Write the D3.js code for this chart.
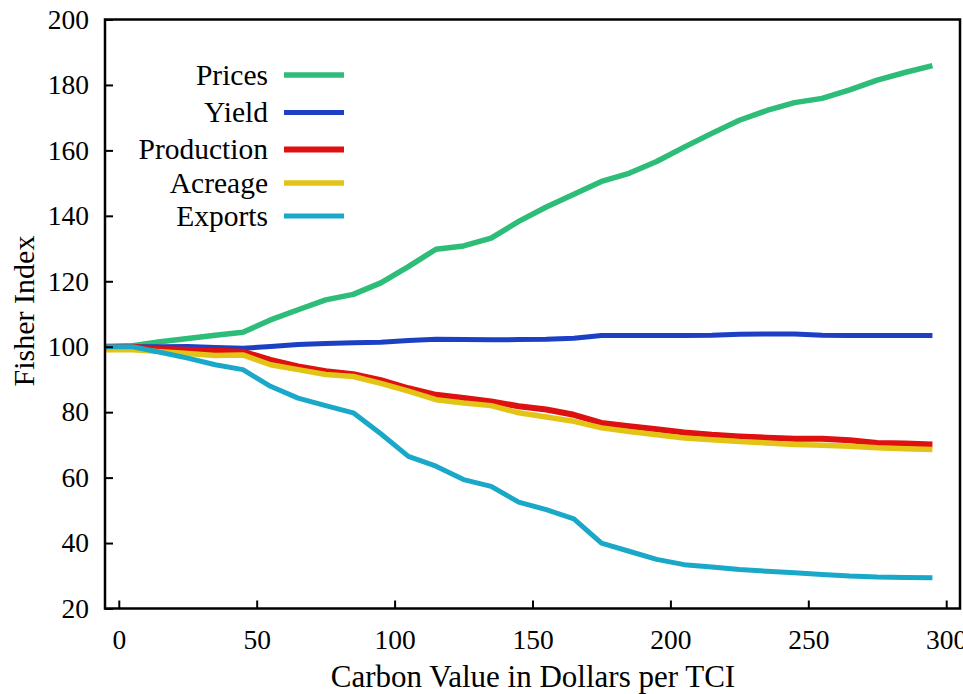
<!DOCTYPE html>
<html>
<head>
<meta charset="utf-8">
<script src="https://cdn.jsdelivr.net/npm/d3@7"></script>
<style>
  html, body { margin: 0; padding: 0; background: #fff; }
  svg { display: block; }
  text { font-family: "Liberation Serif", "Times New Roman", serif; fill: #000; }
</style>
</head>
<body>
<svg id="chart" width="963" height="694"></svg>
<script>
// ---- data ----
const xValues = [-5, 5, 15, 25, 35, 45, 55, 65, 75, 85, 95, 105, 115, 125, 135, 145, 155, 165, 175, 185, 195, 205, 215, 225, 235, 245, 255, 265, 275, 285, 295];
const prices     = [100, 100.3, 101.5, 102.5, 103.5, 104.4, 108.2, 111.3, 114.3, 116, 119.5, 124.5, 129.8, 130.8, 133.2, 138.3, 142.7, 146.6, 150.5, 153, 156.6, 161, 165.2, 169.2, 172.2, 174.6, 175.9, 178.5, 181.5, 183.8, 185.9];
const yieldIdx   = [100, 100, 100, 100.1, 99.8, 99.5, 100.1, 100.7, 101, 101.2, 101.4, 101.9, 102.3, 102.2, 102.1, 102.2, 102.3, 102.6, 103.4, 103.4, 103.4, 103.4, 103.5, 103.8, 103.9, 103.9, 103.5, 103.4, 103.4, 103.4, 103.4];
const production = [100, 100, 99.3, 99.1, 98.8, 98.5, 96, 94, 92.5, 91.6, 89.8, 87.3, 85.3, 84.3, 83.3, 81.8, 80.8, 79.2, 76.7, 75.7, 74.8, 73.8, 73.1, 72.6, 72.2, 71.9, 71.9, 71.4, 70.6, 70.4, 70.1];
const acreage    = [99.1, 99.1, 98.5, 97.9, 97.3, 97.5, 94.5, 93, 91.5, 90.9, 88.8, 86.4, 83.8, 82.8, 82, 79.8, 78.5, 77.2, 75.2, 74.1, 73.1, 72.1, 71.6, 71, 70.6, 70.1, 69.9, 69.6, 69.1, 68.8, 68.6];
const exportsIdx = [100, 100, 98.3, 96.5, 94.5, 93, 87.9, 84.3, 82, 79.8, 73.4, 66.5, 63.5, 59.4, 57.3, 52.5, 50.2, 47.4, 40, 37.5, 35, 33.4, 32.7, 31.9, 31.4, 30.9, 30.4, 29.9, 29.6, 29.5, 29.4];
const seriesNames  = ["Prices", "Yield", "Production", "Acreage", "Exports"];
const seriesColors = ["#2ebd78", "#1c40c4", "#de1010", "#e3c416", "#19a8c8"];
const xTicks = [0, 50, 100, 150, 200, 250, 300];
const yTicks = [20, 40, 60, 80, 100, 120, 140, 160, 180, 200];
const xTitle = "Carbon Value in Dollars per TCI";
const yTitle = "Fisher Index";

// ---- layout ----
const svg = d3.select("#chart");
const plot = { left: 105, right: 960, top: 19.5, bottom: 608.5 };
const x = d3.scaleLinear().domain([-5, 305]).range([plot.left, plot.right]);
const y = d3.scaleLinear().domain([20, 200]).range([plot.bottom, plot.top]);

const allSeries = [prices, yieldIdx, production, acreage, exportsIdx];
const widths = [5.5, 5, 6, 5.5, 5];

// lines
svg.append("clipPath").attr("id", "clip")
  .append("rect").attr("x", plot.left).attr("y", plot.top)
  .attr("width", plot.right - plot.left).attr("height", plot.bottom - plot.top);

const line = d3.line().x(d => x(d[0])).y(d => y(d[1]));
allSeries.forEach((vals, i) => {
  svg.append("path")
    .datum(xValues.map((xv, j) => [xv, vals[j]]))
    .attr("clip-path", "url(#clip)")
    .attr("fill", "none")
    .attr("stroke", seriesColors[i])
    .attr("stroke-width", widths[i])
    .attr("stroke-linejoin", "round")
    .attr("d", line);
});

// axes
const fontSize = 27.5;
const yAxis = d3.axisLeft(y).tickValues(yTicks).tickSizeInner(-8).tickSizeOuter(0).tickPadding(16);
const gy = svg.append("g").attr("transform", `translate(${plot.left},0)`).call(yAxis);
gy.select(".domain").remove();
gy.selectAll(".tick line").attr("stroke", "#000").attr("stroke-width", 2);
gy.selectAll(".tick text").attr("font-size", fontSize).attr("font-family", "Liberation Serif, serif").attr("fill", "#000");

const xAxis = d3.axisBottom(x).tickValues(xTicks).tickSizeInner(-8).tickSizeOuter(0).tickPadding(21);
const gx = svg.append("g").attr("transform", `translate(0,${plot.bottom})`).call(xAxis);
gx.select(".domain").remove();
gx.selectAll(".tick line").attr("stroke", "#000").attr("stroke-width", 2);
gx.selectAll(".tick text").attr("font-size", fontSize).attr("font-family", "Liberation Serif, serif").attr("fill", "#000");

// frame
svg.append("rect")
  .attr("x", plot.left).attr("y", plot.top)
  .attr("width", plot.right - plot.left).attr("height", plot.bottom - plot.top)
  .attr("fill", "none").attr("stroke", "#000").attr("stroke-width", 2.5);

// titles
svg.append("text")
  .attr("x", 533).attr("y", 687)
  .attr("text-anchor", "middle").attr("font-size", 31).attr("fill", "#222")
  .text(xTitle);
svg.append("text")
  .attr("transform", `translate(34,${(plot.top + plot.bottom) / 2 - 3}) rotate(-90)`)
  .attr("text-anchor", "middle").attr("font-size", 30).attr("fill", "#222")
  .text(yTitle);

// legend
const legendY = [75, 112.5, 149.5, 183, 216];
const legend = svg.append("g");
seriesNames.forEach((name, i) => {
  legend.append("text")
    .attr("x", 268).attr("y", legendY[i])
    .attr("dy", "0.33em")
    .attr("text-anchor", "end").attr("font-size", 29.5)
    .text(name);
  legend.append("line")
    .attr("x1", 284).attr("x2", 344)
    .attr("y1", legendY[i]).attr("y2", legendY[i])
    .attr("stroke", seriesColors[i]).attr("stroke-width", widths[i]);
});
</script>
</body>
</html>
